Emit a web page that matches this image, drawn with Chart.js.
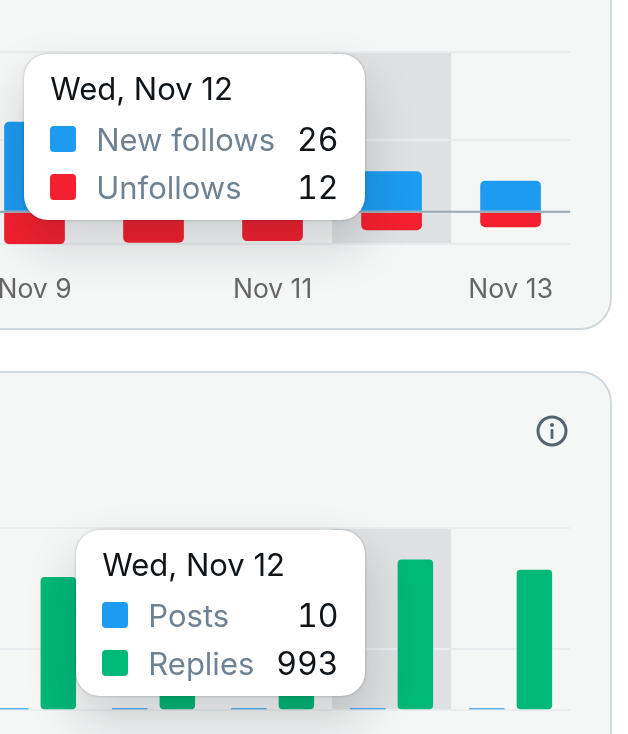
<!DOCTYPE html>
<html>
<head>
<meta charset="utf-8">
<script src="https://cdn.jsdelivr.net/npm/chart.js@4"></script>
<style>
    html, body { margin: 0; height: 734px; overflow: hidden; background: #fff; font-family: Inter, sans-serif; }
    .card { position: absolute; left: -40px; width: 648px; background: #f5f7f7; border: 2px solid #cfd9de; border-radius: 32px; }
    #card1 { top: -40px; height: 366px; }
    #card2 { top: 371px; height: 500px; }
    .wrap { position: absolute; left: -25px; width: 600px; }
    #wrap1 { top: 44px; height: 284px; }
    #wrap2 { top: 520px; height: 274px; }
    .info { position: absolute; left: 536px; top: 415px; }
    .tip { position: absolute; box-sizing: border-box; height: 166px; padding: 15px 26px 0 26px; background: #fff; border-radius: 24px;
           box-shadow: 0 0 3px rgba(15, 20, 25, .28), 0 24px 50px rgba(15, 20, 25, .18); }
    .tip .title { font-size: 31px; line-height: 40px; color: #0f1419; white-space: nowrap; margin-bottom: 6px; }
    .tip .row { display: flex; align-items: center; height: 48px; font-size: 31px; white-space: nowrap; }
    .tip .box { width: 26px; height: 26px; border-radius: 4px; margin-right: 20px; }
    .tip .name { color: #6f8293; flex: 1; margin-right: 22px; }
    .tip .val { color: #0f1419; font-size: 32px; font-variant-numeric: tabular-nums; }
</style>
</head>
<body>
<div class="card" id="card1"></div>
<div class="card" id="card2"></div>
<svg class="info" width="32" height="32" viewBox="0 0 32 32" fill="none">
    <circle cx="16" cy="16" r="14" stroke="#536471" stroke-width="3"/>
    <circle cx="16" cy="10" r="2" fill="#536471"/>
    <rect x="14.6" y="14" width="2.8" height="10" rx="1" fill="#536471"/>
</svg>
<div class="wrap" id="wrap1"><canvas id="followsChart"></canvas></div>
<div class="wrap" id="wrap2"><canvas id="activityChart"></canvas></div>
<div class="tip" id="tip1"></div>
<div class="tip" id="tip2"></div>

<script>
const days = ['Nov 9', 'Nov 10', 'Nov 11', 'Nov 12', 'Nov 13'];
const fullDays = ['Sun, Nov 9', 'Mon, Nov 10', 'Tue, Nov 11', 'Wed, Nov 12', 'Thu, Nov 13'];
const newFollows = [58, 44, 36, 26, 20];
const unfollows = [-21, -20, -19, -12, -10];
const posts = [8, 12, 10, 10, 9];
const replies = [878, 860, 840, 993, 925];
const followTicks = [-21, 0, 46, 103];
const activityTicks = [0, 400, 1200];
const hoverIndex = 3;

const BLUE = '#1d9bf0';
const RED = '#f4202f';
const GREEN = '#00b877';

// grey column behind the hovered day, under the gridlines
const hoverBand = {
    id: 'hoverBand',
    beforeDraw(chart) {
        const { ctx, chartArea, scales } = chart;
        const step = scales.x.getPixelForValue(1) - scales.x.getPixelForValue(0);
        ctx.save();
        ctx.fillStyle = '#dfe1e3';
        ctx.fillRect(scales.x.getPixelForValue(hoverIndex) - step / 2, chartArea.top, step, chartArea.height);
        ctx.restore();
    }
};

// zero line sits on top of the bars in the follows chart
const zeroLine = {
    id: 'zeroLine',
    afterDatasetsDraw(chart) {
        const { ctx, chartArea, scales } = chart;
        const y = scales.y.getPixelForValue(0);
        ctx.save();
        ctx.strokeStyle = '#94a9b9';
        ctx.lineWidth = 2;
        ctx.beginPath();
        ctx.moveTo(chartArea.left, y);
        ctx.lineTo(chartArea.right, y);
        ctx.stroke();
        ctx.restore();
    }
};

function drawTip(tipId, chart, tooltip) {
    const tip = document.getElementById(tipId);
    const rows = tooltip.dataPoints.map(p =>
        '<div class="row"><div class="box" style="background:' + p.dataset.backgroundColor + '"></div>' +
        '<div class="name">' + p.dataset.label + '</div>' +
        '<div class="val">' + Math.abs(p.raw) + '</div></div>'
    ).join('');
    tip.innerHTML = '<div class="title">' + fullDays[hoverIndex] + '</div>' + rows;

    const box = chart.canvas.parentNode;
    tip.style.right = (628 - (box.offsetLeft + chart.scales.x.getPixelForValue(hoverIndex) - 27)) + 'px';
    tip.style.top = (box.offsetTop + chart.chartArea.top + 2) + 'px';
}

function buildOptions(tipId, yTicks, stacked) {
    return {
        responsive: true,
        maintainAspectRatio: false,
        animation: false,
        events: [],
        layout: { padding: { top: 8, left: 0, right: 0, bottom: 0 } },
        plugins: {
            legend: { display: false },
            tooltip: {
                enabled: false,
                mode: 'index',
                external: ({ chart, tooltip }) => drawTip(tipId, chart, tooltip)
            }
        },
        scales: {
            x: {
                stacked: stacked,
                border: { display: false },
                grid: { display: false },
                ticks: {
                    autoSkip: false,
                    maxRotation: 0,
                    padding: 22,
                    color: '#666',
                    font: { family: 'Inter', size: 26.5 },
                    callback: function(value, index) {
                        return index % 2 === 0 ? this.getLabelForValue(value) : '';
                    }
                }
            },
            y: {
                stacked: stacked,
                min: yTicks[0],
                max: yTicks[yTicks.length - 1],
                border: { display: false },
                afterBuildTicks: axis => { axis.ticks = yTicks.map(v => ({ value: v })); },
                grid: { color: '#e9edef', lineWidth: 2, drawTicks: false },
                ticks: { display: false }
            }
        }
    };
}

const followsChart = new Chart(document.getElementById('followsChart'), {
    type: 'bar',
    data: {
        labels: days,
        datasets: [
            { label: 'New follows', data: newFollows, backgroundColor: BLUE, borderRadius: 5, barPercentage: 0.51, categoryPercentage: 1 },
            { label: 'Unfollows', data: unfollows, backgroundColor: RED, borderRadius: 5, barPercentage: 0.51, categoryPercentage: 1 }
        ]
    },
    options: buildOptions('tip1', followTicks, true),
    plugins: [hoverBand, zeroLine]
});

const activityChart = new Chart(document.getElementById('activityChart'), {
    type: 'bar',
    data: {
        labels: days,
        datasets: [
            { label: 'Posts', data: posts, backgroundColor: BLUE, minBarLength: 2, barPercentage: 0.745, categoryPercentage: 0.8 },
            { label: 'Replies', data: replies, backgroundColor: GREEN, borderRadius: 4, borderSkipped: false, barPercentage: 0.745, categoryPercentage: 0.8 }
        ]
    },
    options: buildOptions('tip2', activityTicks, false),
    plugins: [hoverBand]
});

[followsChart, activityChart].forEach(chart => {
    chart.tooltip.setActiveElements(
        chart.data.datasets.map((d, i) => ({ datasetIndex: i, index: hoverIndex })),
        { x: 0, y: 0 }
    );
    chart.update();
});
</script>
</body>
</html>
